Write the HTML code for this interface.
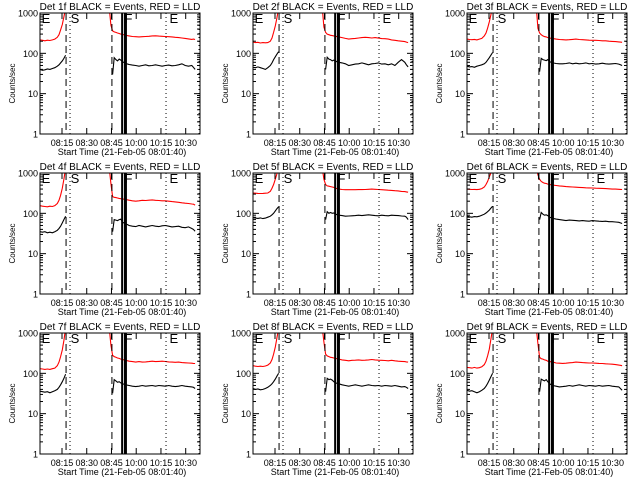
<!DOCTYPE html>
<html><head><meta charset="utf-8"><style>
html,body{margin:0;padding:0;background:#fff;width:640px;height:480px;overflow:hidden}
svg{display:block}
text{font-family:"Liberation Sans",sans-serif;fill:#000}
</style></head><body>
<svg id="c" width="640" height="480" viewBox="0 0 640 480"></svg>
<script>
const preTimes=[0,1.5,3,4.5,6,7.5,9,10.5,11.5,12.5,13.5,14.5,15.5];
const postTimes=[42,43,44,45,46,47,48,49,50,52,54,56,58,60,62,64,66,68,70,72,74,76,78,80,82,84,86,88,90,92,93,94];
const tickLabels=["08:15","08:30","08:45","10:00","10:15","10:30"];
const tickMinutes=[13.33,28.33,43.33,58.33,73.33,88.33];
const yTickValues=[1000,100,10,1];
const detNames=["1f","2f","3f","4f","5f","6f","7f","8f","9f"];
const redPre1=[215,210,205,212,208,215,225,250,290,380,520,800,1300];
const redPost1=[1300,500,360,340,330,320,310,300,295,280,270,262,258,255,258,262,265,270,272,268,265,262,258,255,250,245,240,235,228,222,225,220];
const blackPre1=[40,38,39,41,40,42,44,48,52,58,65,75,90];
const blackPost1=[null,null,30,78,70,65,72,68,62,56,53,51,50,48,50,52,49,50,52,50,48,50,51,49,50,52,55,50,48,50,45,40];
const redPre2=[190,185,188,180,185,182,185,200,240,330,480,750,1300];
const redPost2=[1300,450,330,300,290,280,275,270,265,255,245,235,225,230,235,240,245,250,245,240,245,238,232,230,225,215,210,205,200,195,190,185];
const blackPre2=[45,44,46,44,42,40,44,50,58,70,82,95,110];
const blackPost2=[null,null,40,80,72,70,65,68,64,60,58,55,50,52,54,55,58,55,52,55,56,58,54,55,52,55,50,60,70,60,52,46];
const redPre3=[225,220,218,222,215,225,235,270,320,420,600,900,1400];
const redPost3=[1400,420,320,290,270,260,255,245,240,232,225,220,218,215,218,222,225,220,218,215,212,210,210,208,205,205,200,198,195,192,190,188];
const blackPre3=[48,46,47,45,48,50,52,55,60,68,78,90,105];
const blackPost3=[null,null,35,75,70,68,66,70,62,58,56,55,55,56,58,55,57,55,56,58,55,56,54,55,57,55,54,55,56,54,52,50];
const redPre4=[155,150,148,145,150,148,155,175,210,280,420,700,1300];
const redPost4=[1300,550,260,250,245,240,235,230,228,220,212,205,200,205,210,208,212,215,210,208,205,205,200,195,192,188,182,178,175,170,168,160];
const blackPre4=[35,34,35,33,34,33,35,38,42,48,58,70,85];
const blackPost4=[null,null,35,70,68,66,70,72,60,55,50,48,47,50,48,46,48,50,48,47,49,50,48,46,47,48,45,44,46,42,40,36];
const redPre5=[320,315,312,310,312,315,320,350,420,520,700,950,1300];
const redPost5=[1300,700,520,480,470,460,450,440,420,400,390,385,385,385,386,387,388,390,395,400,395,390,385,380,375,370,365,360,350,345,340,335];
const blackPre5=[78,76,75,77,74,76,80,85,92,100,115,130,145];
const blackPost5=[null,null,70,110,100,105,100,102,95,90,88,85,86,87,88,90,88,90,92,90,88,87,90,88,87,90,89,88,86,85,80,70];
const redPre6=[400,395,390,392,388,395,410,450,520,620,800,1000,1300];
const redPost6=[1300,900,700,620,580,560,550,530,520,500,490,480,470,460,455,450,445,440,435,430,428,425,420,418,415,410,405,400,398,395,392,390];
const blackPre6=[85,82,80,83,82,85,90,95,102,110,120,135,150];
const blackPost6=[null,null,70,105,95,90,92,88,80,75,72,70,68,66,68,67,66,65,66,65,64,66,65,64,63,64,62,62,61,60,58,56];
const redPre7=[130,128,125,128,125,130,135,155,190,260,380,650,1300];
const redPost7=[1300,500,280,260,250,240,235,225,220,210,200,195,190,195,190,192,195,200,195,198,200,196,192,190,188,190,185,182,180,178,176,175];
const blackPre7=[36,35,34,35,33,35,37,40,45,52,62,75,95];
const blackPost7=[null,null,32,70,65,60,62,58,55,52,50,48,47,48,50,48,49,50,48,50,49,48,50,48,47,48,50,48,47,46,45,42];
const redPre8=[155,150,148,150,148,152,160,180,220,300,450,750,1300];
const redPost8=[1300,600,300,270,260,250,245,240,235,225,215,210,205,210,212,215,210,212,215,220,215,212,210,208,205,210,205,200,198,195,192,190];
const blackPre8=[42,40,41,39,40,42,45,50,55,62,72,85,100];
const blackPost8=[null,null,35,75,70,72,68,62,58,55,52,50,48,50,52,50,48,50,52,50,49,50,48,50,49,48,50,48,46,47,45,42];
const redPre9=[140,138,135,140,135,138,145,165,200,270,400,700,1300];
const redPost9=[1300,550,250,230,225,215,210,200,195,190,180,178,176,178,182,185,190,188,185,182,180,180,178,176,175,172,170,168,165,160,158,155];
const blackPre9=[38,36,37,35,33,35,38,42,48,56,68,82,100];
const blackPost9=[null,null,35,72,68,65,70,62,55,50,48,46,47,48,50,48,50,52,50,48,50,49,48,50,48,49,50,48,47,46,42,38];
const redPres=[redPre1,redPre2,redPre3,redPre4,redPre5,redPre6,redPre7,redPre8,redPre9];
const redPosts=[redPost1,redPost2,redPost3,redPost4,redPost5,redPost6,redPost7,redPost8,redPost9];
const blackPres=[blackPre1,blackPre2,blackPre3,blackPre4,blackPre5,blackPre6,blackPre7,blackPre8,blackPre9];
const blackPosts=[blackPost1,blackPost2,blackPost3,blackPost4,blackPost5,blackPost6,blackPost7,blackPost8,blackPost9];
const markerDashed=[15.8,43.6];
const markerDotted=[18.2,76.4,96.4];
const markerBars=[49.8,51.8];
const markerLetters=[["E",1],["S",18.6],["F",51.2],["E",78.5]];

const NS="http://www.w3.org/2000/svg";
const svg=document.getElementById('c');
function mk(tag,attrs,parent){const e=document.createElementNS(NS,tag);for(const k in attrs)e.setAttribute(k,attrs[k]);(parent||svg).appendChild(e);return e;}
const TMAX=97,PW=160,PH=121;
for(let p=0;p<9;p++){
  const col=p%3,row=Math.floor(p/3);
  const L=Math.round(col*213.33)+40,T=row*160+13,R=L+PW,B=T+PH;
  const g=mk('g',{});
  
  
  const xs=m=>L+m*PW/TMAX;
  const ys=v=>B-(Math.log10(Math.max(v,1)))*PH/3;
  const t=mk('text',{x:L+PW/2,y:T-3,'font-size':'10','text-anchor':'middle'},g);
  t.textContent='Det '+detNames[p]+' BLACK = Events, RED = LLD';
  
  
  const yl=mk('text',{x:0,y:0,'font-size':'8','text-anchor':'middle',transform:`translate(${L-25},${T+PH/2+10}) rotate(-90)`},g);
  yl.textContent='Counts/sec';
  
  
  const xl=mk('text',{x:L+PW/2+2,y:B+21,'font-size':'9','text-anchor':'middle'},g);
  xl.textContent='Start Time (21-Feb-05 08:01:40)';
  
  
  const cid='clip'+p;
  const cp=mk('clipPath',{id:cid},g);mk('rect',{x:L,y:T,width:PW,height:PH},cp);
  const cg=mk('g',{'clip-path':`url(#${cid})`},g);
  function line(times,vals,color,name){
    let d='',pen=false;
    for(let i=0;i<times.length;i++){
      const v=vals[i];
      if(v==null){pen=false;continue;}
      d+=(pen?'L':'M')+xs(times[i]).toFixed(1)+' '+ys(v).toFixed(1);pen=true;
    }
    const e=mk('path',{d:d,fill:'none',stroke:color,'stroke-width':'1.1'},cg);
    
    
  }
  line(preTimes,redPres[p],'#f00','lld-rate-pre');
  line(postTimes,redPosts[p],'#f00','lld-rate-post');
  line(preTimes,blackPres[p],'#000','event-rate-pre');
  line(postTimes,blackPosts[p],'#000','event-rate-post');
  markerDashed.forEach(m=>{const e=mk('line',{x1:xs(m),x2:xs(m),y1:T,y2:B,stroke:'#000','stroke-dasharray':'7 4'},g);});
  markerDotted.forEach(m=>{const e=mk('line',{x1:xs(m),x2:xs(m),y1:T,y2:B,stroke:'#000','stroke-dasharray':'1 3'},g);});
  markerBars.forEach((m,i)=>{const e=mk('line',{x1:xs(m),x2:xs(m),y1:T,y2:B,stroke:'#000','stroke-width':i?3:2},g);});
  markerLetters.forEach(([s,m])=>{const e=mk('text',{x:xs(m),y:T+10,'font-size':'13'},g);e.textContent=s;});
  const f=mk('rect',{x:L,y:T,width:PW,height:PH,fill:'none',stroke:'#000','stroke-width':'1'},g);
  
  yTickValues.forEach(v=>{
    const y=ys(v);
    mk('line',{x1:L,x2:L+6,y1:y,y2:y,stroke:'#000'},g);
    mk('line',{x1:R-6,x2:R,y1:y,y2:y,stroke:'#000'},g);
    const e=mk('text',{x:L-2,y:y+3.5,'font-size':'9','text-anchor':'end'},g);
    e.textContent=String(v);
    if(v<1000)for(let k=2;k<10;k++){const yy=ys(v*k);mk('line',{x1:L,x2:L+3,y1:yy,y2:yy,stroke:'#000'},g);mk('line',{x1:R-3,x2:R,y1:yy,y2:yy,stroke:'#000'},g);}
  });
  tickMinutes.forEach((m,i)=>{
    const x=xs(m);
    mk('line',{x1:x,x2:x,y1:B,y2:B-6,stroke:'#000'},g);
    mk('line',{x1:x,x2:x,y1:T,y2:T+6,stroke:'#000'},g);
    const e=mk('text',{x:x,y:B+12,'font-size':'9','text-anchor':'middle'},g);
    e.textContent=tickLabels[i];
  });
}
</script>
</body></html>
